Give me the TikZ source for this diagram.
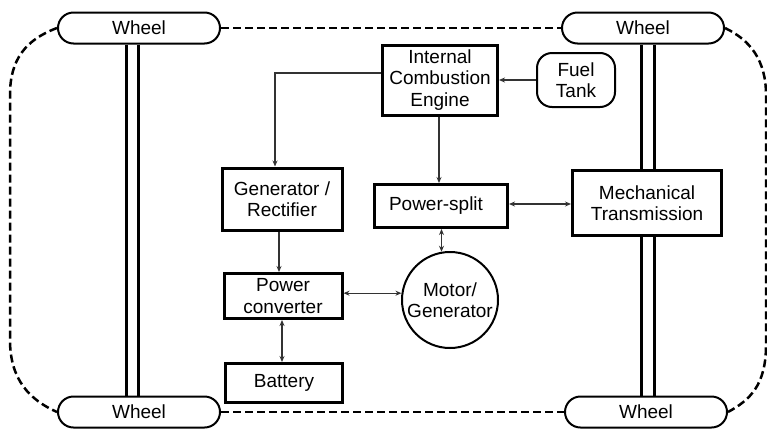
\documentclass[tikz,border=0pt]{standalone}
\usepackage{fontspec}
\setmainfont{Liberation Sans}
\usepackage{tikz}
\usetikzlibrary{shapes.misc,arrows.meta,positioning}
\tikzset{
  blk/.style={draw,line width=3pt,inner sep=0pt,align=center,font=\fontsize{19}{21.5}\selectfont},
  wheel/.style={draw,rounded rectangle,line width=2pt,minimum width=162pt,minimum height=31pt,inner sep=0pt,font=\fontsize{19}{21.5}\selectfont},
  axle/.style={line width=3pt},
  dashline/.style={line width=2.5pt,dash pattern=on 8pt off 4pt},
  arr/.style={line width=1.3pt,black!80,-{Stealth[length=6pt,width=5pt]}},
  biarr/.style={line width=1.3pt,black!80,{Stealth[length=6pt,width=5pt]}-{Stealth[length=6pt,width=5pt]}}
}

\begin{document}
\begin{tikzpicture}[x=1pt,y=-1pt]
\useasboundingbox (0,0) rectangle (767,429);
\node[wheel] (wtl) at (139,28) {Wheel};
\node[wheel] (wtr) at (643,28) {Wheel};
\node[wheel] (wbl) at (139,412) {Wheel};
\node[wheel] (wbr) at (646,412) {Wheel};
\node[blk,minimum width=115pt,minimum height=70pt] (ice) at (440,80) {Internal\\Combustion\\Engine};
\node[draw,rounded corners=15pt,line width=2pt,minimum width=78pt,minimum height=54pt,inner sep=0pt,align=center,font=\fontsize{19}{21.5}\selectfont] (ft) at (576,80) {Fuel\\Tank};
\node[blk,minimum width=133pt,minimum height=43pt] (ps) at (441,206) {Power-split\hspace*{10pt}};
\node[blk,minimum width=149pt,minimum height=65pt] (mt) at (647,203) {Mechanical\\Transmission};
\node[blk,minimum width=120pt,minimum height=62pt] (gen) at (282,199) {Generator /\\Rectifier};
\node[blk,minimum width=118pt,minimum height=45pt] (pc) at (283,296) {Power\\converter};
\node[blk,minimum width=117pt,minimum height=39pt] (bat) at (284,383) {Battery};
\node[draw,circle,line width=2pt,minimum size=96pt,inner sep=0pt,align=center,font=\fontsize{19}{21.5}\selectfont] (mg) at (450,300) {Motor/\\Generator};

\draw[dashline] (wtl.west) .. controls (25,40) and (10,60) .. (10,95) -- (10,340) .. controls (10,380) and (30,400) .. (wbl.west);
\draw[dashline] (wtl.east) -- (wtr.west);
\draw[dashline] (wbl.east) -- (wbr.west);
\draw[dashline] (wtr.east) .. controls (750,40) and (766,60) .. (766,95) -- (766,345) .. controls (766,385) and (750,400) .. (wbr.east);

\draw[axle] ([xshift=-13pt]wtl.south) -- ([xshift=-13pt]wbl.north);
\draw[axle] ([xshift=-1pt]wtl.south) -- ([xshift=-1pt]wbl.north);
\draw[axle] ([xshift=-6pt]mt.north) -- ([xshift=-6pt]mt.north |- wtr.south);
\draw[axle] ([xshift=7pt]mt.north) -- ([xshift=7pt]mt.north |- wtr.south);
\draw[axle] ([xshift=-6pt]mt.south) -- ([xshift=-6pt]mt.south |- wbr.north);
\draw[axle] ([xshift=7pt]mt.south) -- ([xshift=7pt]mt.south |- wbr.north);

\draw[arr] (ft.west) -- (ft.west -| ice.east);
\draw[arr] ([yshift=7pt]ice.west) -| ([xshift=-7pt]gen.north);
\draw[arr] ([xshift=-1pt]ice.south) -- ([xshift=-1pt]ice.south |- ps.north);
\draw[arr] ([xshift=-3pt]gen.south) -- ([xshift=-3pt]gen.south |- pc.north);
\draw[biarr] ([xshift=-1pt]pc.south) -- ([xshift=-1pt]pc.south |- bat.north);
\draw[biarr] (pc.east |- mg.172) -- (mg.172);
\draw[biarr] (ps.south -| mg.100) -- (mg.100);
\draw[biarr] ([yshift=2pt]ps.east) -- ([yshift=2pt]ps.east -| mt.west);
\end{tikzpicture}
\end{document}
